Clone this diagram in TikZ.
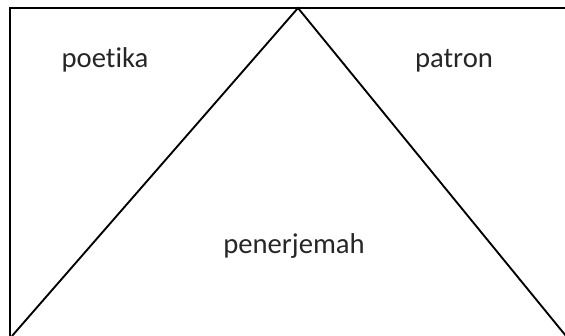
\documentclass[tikz,border=0pt]{standalone}
\usepackage{fontspec}
\setmainfont{Carlito}[Ligatures=NoCommon]
\begin{document}
\begin{tikzpicture}[x=0.75pt,y=-0.75pt,
  edge/.style={line width=1.4pt,black},
  lbl/.style={anchor=base,inner sep=0pt,font=\fontsize{21.5}{26}\selectfont,text=black!85}]
\useasboundingbox (0,0) rectangle (565,336);
\coordinate (tl) at (10,8);
\coordinate (tr) at (565,8);
\coordinate (bl) at (10,336);
\coordinate (apex) at (298,8);
\coordinate (dl) at (12,336);
\coordinate (dr) at (566,336);
\draw[edge] (bl) -- (tl) -- (tr);
\draw[edge] (dl) -- (apex) -- (dr);
\node[lbl] (poetika) at (105,67) {poetika};
\node[lbl] (patron) at (454,67) {patron};
\node[lbl] (penerjemah) at (294,253) {penerjemah};
\end{tikzpicture}
\end{document}
